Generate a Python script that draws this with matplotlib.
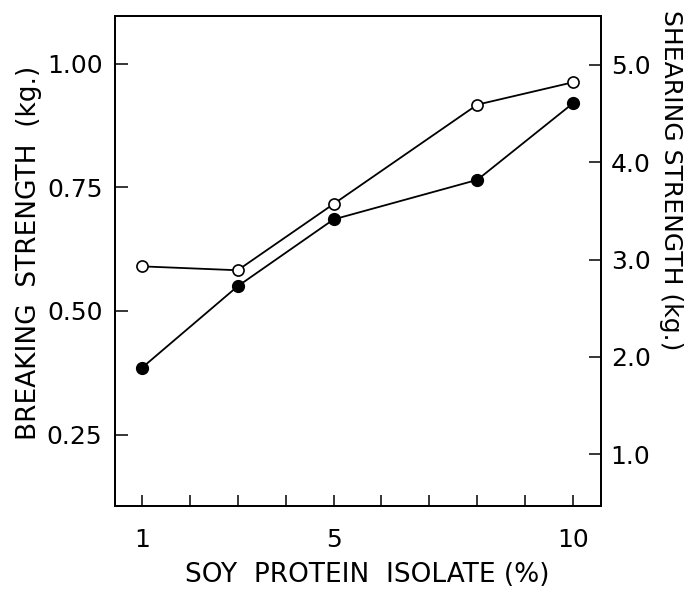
"""Breaking / shearing strength vs soy protein isolate level (two y scales)."""
import matplotlib
matplotlib.use("Agg")
import matplotlib.pyplot as plt
from matplotlib.ticker import FixedLocator, FuncFormatter

# data
isolate_pct = [1, 3, 5, 8, 10]
breaking_kg = [0.385, 0.55, 0.685, 0.765, 0.92]   # filled circles, left axis
shearing_kg = [2.93, 2.89, 3.57, 4.59, 4.82]       # open circles, right axis

x_ticks = list(range(1, 11))
x_labelled = {1: "1", 5: "5", 10: "10"}
left_ticks = [0.25, 0.50, 0.75, 1.00]
right_ticks = [1.0, 2.0, 3.0, 4.0, 5.0]

plt.rcParams["font.family"] = "DejaVu Sans"
FS = 18

fig = plt.figure(figsize=(6.9, 5.93), dpi=100)
ax = fig.add_axes([115 / 690, 87 / 593, 486 / 690, 490 / 593])
ax2 = ax.twinx()

ax.plot(isolate_pct, breaking_kg, color="black", lw=1.3, marker="o",
        ms=8.5, mfc="black", mec="black", zorder=3)
ax2.plot(isolate_pct, shearing_kg, color="black", lw=1.3, marker="o",
         ms=8, mfc="white", mec="black", mew=1.2, zorder=3)

ax.set_xlim(0.44, 10.58)
ax.set_ylim(0.106, 1.096)
ax2.set_ylim(0.47, 5.50)

ax.xaxis.set_major_locator(FixedLocator(x_ticks))
ax.xaxis.set_major_formatter(FuncFormatter(lambda v, p: x_labelled.get(int(round(v)), "")))
ax.set_yticks(left_ticks)
ax.set_yticklabels([f"{v:.2f}" for v in left_ticks])
ax2.set_yticks(right_ticks)
ax2.set_yticklabels([f"{v:.1f}" for v in right_ticks])

ax.tick_params(axis="x", direction="in", length=8, width=1.1, labelsize=FS, pad=16)
ax.tick_params(axis="y", direction="in", length=9, width=1.1, labelsize=FS, pad=9)
ax2.tick_params(axis="y", direction="in", length=9, width=1.1, labelsize=FS, pad=7)

for a in (ax, ax2):
    for s in a.spines.values():
        s.set_linewidth(1.3)

ax.set_xlabel("SOY  PROTEIN  ISOLATE (%)", fontsize=19)
ax.xaxis.set_label_coords(0.52, -0.114)
ax.set_ylabel("BREAKING  STRENGTH  (kg.)", fontsize=19)
ax.yaxis.set_label_coords(-0.150, 0.516)
ax2.set_ylabel("SHEARING STRENGTH (kg.)", fontsize=FS, rotation=270)
ax2.yaxis.set_label_coords(1.145, 0.665)
ax2.yaxis.label.set_va("center")

fig.savefig("out.png", dpi=100)
